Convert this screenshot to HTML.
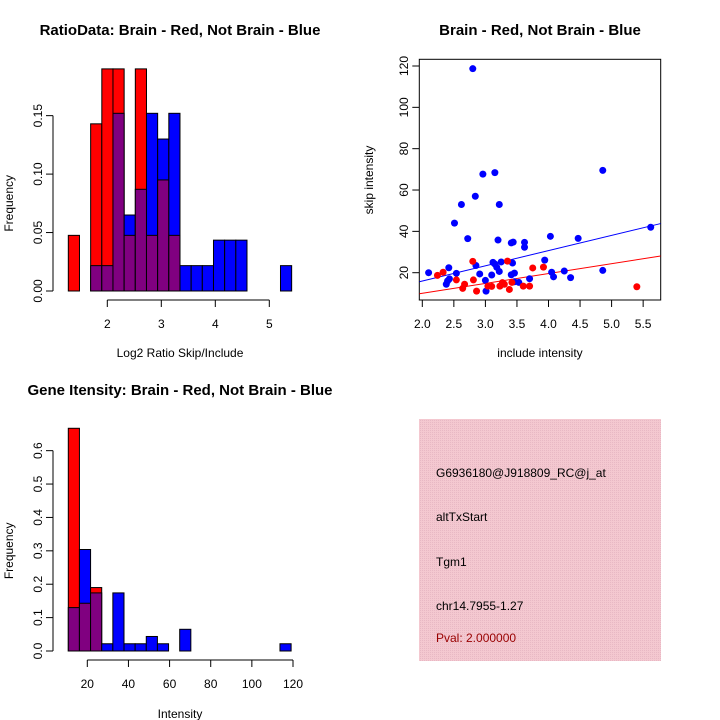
<!DOCTYPE html>
<html><head><meta charset="utf-8"><style>
html,body{margin:0;padding:0;background:#fff;}
svg{display:block;font-family:"Liberation Sans",sans-serif;}
</style></head><body>
<svg id="root" width="720" height="720" viewBox="0 0 720 720">
<defs><pattern id="pk" width="2" height="2" patternUnits="userSpaceOnUse"><rect width="2" height="2" fill="#f4c8d0"/><rect width="1" height="1" fill="#e8b8c4"/></pattern></defs>
<g id="p1"></g>
<g id="p2"></g>
<g id="p3"></g>
<g>
<rect x="419" y="419" width="242" height="242" fill="url(#pk)"/>
<g font-size="12" fill="#000">
<text x="436" y="477">G6936180@J918809_RC@j_at</text>
<text x="436" y="521">altTxStart</text>
<text x="436" y="566">Tgm1</text>
<text x="436" y="610">chr14.7955-1.27</text>
<text x="436" y="642" fill="#990000">Pval: 2.000000</text>
</g></g>
</svg>
<script>
// Histogram 1 data
const h1Red = [0.0476,0,0.143,0.19,0.19,0.0476,0.19,0.0476,0.095,0.0476,0,0,0,0,0,0,0,0,0,0];
const h1Blue = [0,0,0.0217,0.0217,0.152,0.065,0.087,0.152,0.13,0.152,0.0217,0.0217,0.0217,0.0435,0.0435,0.0435,0,0,0,0.0217];
const h1Start = 1.278, h1Width = 0.2068;
const h1XTicks = [2,3,4,5];
const h1YTicks = [0,0.05,0.1,0.15];
const h1YLabels = ["0.00","0.05","0.10","0.15"];
// Histogram 2 data
const h2Red = [0.667,0.143,0.19,0,0,0,0,0,0,0,0,0,0,0,0,0,0,0,0,0];
const h2Blue = [0.13,0.304,0.174,0.0217,0.174,0.0217,0.0217,0.0435,0.0217,0,0.065,0,0,0,0,0,0,0,0,0.0217];
const h2Start = 10.76, h2Width = 5.416;
const h2XTicks = [20,40,60,80,100,120];
const h2YTicks = [0,0.1,0.2,0.3,0.4,0.5,0.6];
const h2YLabels = ["0.0","0.1","0.2","0.3","0.4","0.5","0.6"];
// Scatter data
const blueX = [2.10,2.80,2.51,2.62,2.72,2.84,2.96,3.15,3.22,3.20,3.41,3.44,3.62,3.62,4.03,4.47,4.86,5.62,2.42,2.38,2.40,2.43,2.54,2.85,2.91,3.00,3.01,3.10,3.12,3.15,3.18,3.22,3.25,3.41,3.43,3.46,3.46,3.53,3.70,3.94,4.05,4.08,4.25,4.35,4.86];
const blueY = [20,118.7,44,53,36.5,57,67.7,68.4,53,35.8,34.4,34.8,34.7,32.3,37.6,36.6,69.5,42,22.4,14.4,16,17,19.7,23.5,19.4,16.3,11.1,18.9,25,24.2,22.6,20.6,25.2,19,24.7,19.8,15.6,15.3,17.1,26.1,20.2,18,20.8,17.6,21.1];
const redX = [2.24,2.33,2.54,2.64,2.67,2.80,2.81,2.86,3.04,3.10,3.23,3.27,3.30,3.35,3.38,3.42,3.60,3.70,3.75,3.92,5.40];
const redY = [18.7,20.2,16.5,12.4,14.4,25.5,16.5,11.1,13.5,13.4,13.5,15.2,14.4,25.6,11.9,15.3,13.5,13.5,22.3,22.7,13.2];
const blueFit = [1.25,7.36];
const redFit = [0.48,4.78];
const scXTicks = [2.0,2.5,3.0,3.5,4.0,4.5,5.0,5.5];
const scYTicks = [20,40,60,80,100,120];

const NS="http://www.w3.org/2000/svg";
function mk(parent,tag,attrs,txt){const e=document.createElementNS(NS,tag);for(const k in attrs)e.setAttribute(k,attrs[k]);if(txt!==undefined)e.textContent=txt;parent.appendChild(e);return e;}

function hist(g,red,blue,start,w,sx,sy,base,axisY,xT,xL,yT,yL,title,titleY,xlab,xlabY){
  for(let i=0;i<red.length;i++){
    const r=red[i],b=blue[i];const x0=sx(start+i*w),x1=sx(start+(i+1)*w);
    const hi=Math.max(r,b),lo=Math.min(r,b);
    if(hi>0){const e=mk(g,'rect',{x:x0,y:sy(hi),width:x1-x0,height:base-sy(hi),fill:r>=b?'#ff0000':'#0000ff',stroke:'#000','stroke-width':1});
      
      }
    if(lo>0){const e=mk(g,'rect',{x:x0,y:sy(lo),width:x1-x0,height:base-sy(lo),fill:'#800080',stroke:'#000','stroke-width':1});
      
      }
  }
  const xa=mk(g,'line',{x1:sx(xT[0]),x2:sx(xT[xT.length-1]),y1:axisY,y2:axisY,stroke:'#000'});
  
  
  xT.forEach((t,i)=>{mk(g,'line',{x1:sx(t),x2:sx(t),y1:axisY,y2:axisY+7,stroke:'#000'});
    const e=mk(g,'text',{x:sx(t),y:axisY+28,'text-anchor':'middle','font-size':12},xL[i]);
    
    });
  const ya=mk(g,'line',{x1:53,x2:53,y1:sy(yT[0]),y2:sy(yT[yT.length-1]),stroke:'#000'});
  
  
  yT.forEach((t,i)=>{const y=sy(t);mk(g,'line',{x1:46,x2:53,y1:y,y2:y,stroke:'#000'});
    const e=mk(g,'text',{x:0,y:0,'text-anchor':'middle','font-size':12,transform:`translate(42,${y}) rotate(-90)`},yL[i]);
    
    });
  const t=mk(g,'text',{x:180,y:titleY,'text-anchor':'middle','font-size':15,'font-weight':'bold'},title);
  
  
  const xl=mk(g,'text',{x:180,y:xlabY,'text-anchor':'middle','font-size':12},xlab);
  
  
  const yc=(sy(yT[0])+sy(yT[yT.length-1]))/2;
  const yl=mk(g,'text',{x:0,y:0,'text-anchor':'middle','font-size':12,transform:`translate(13,${yc}) rotate(-90)`},'Frequency');
  
  
}

const g1=document.getElementById('p1');
hist(g1,h1Red,h1Blue,h1Start,h1Width,v=>107.3+(v-2)*54,v=>291-1169*v,291,300,h1XTicks,h1XTicks.map(String),h1YTicks,h1YLabels,'RatioData: Brain - Red, Not Brain - Blue',35,'Log2 Ratio Skip/Include',357);
const g3=document.getElementById('p3');
hist(g3,h2Red,h2Blue,h2Start,h2Width,v=>87.3+(v-20)*2.057,v=>651-333.9*v,651,660,h2XTicks,h2XTicks.map(String),h2YTicks,h2YLabels,'Gene Itensity: Brain - Red, Not Brain - Blue',395,'Intensity',718);

// scatter
const g2=document.getElementById('p2');
const sx=v=>422.3+(v-2)*63.1, sy=v=>272.7-(v-20)*2.067;
const L=419.3,R=660.7,T=59.3,B=300;
const cp=mk(g2,'clipPath',{id:'scclip'});mk(cp,'rect',{x:L,y:T,width:R-L,height:B-T});
const fr=mk(g2,'rect',{x:L,y:T,width:R-L,height:B-T,fill:'none',stroke:'#000'});


const xmin=(L-422.3)/63.1+2,xmax=(R-422.3)/63.1+2;
[[blueFit,'#0000ff','blue-fit-line'],[redFit,'#ff0000','red-fit-line']].forEach(([f,c,n])=>{
  const e=mk(g2,'line',{x1:sx(xmin),y1:sy(f[0]+f[1]*xmin),x2:sx(xmax),y2:sy(f[0]+f[1]*xmax),stroke:c,'clip-path':'url(#scclip)'});
  
  });
blueX.forEach((x,i)=>{const e=mk(g2,'circle',{cx:sx(x),cy:sy(blueY[i]),r:3.5,fill:'#0000ff'});
  
  });
redX.forEach((x,i)=>{const e=mk(g2,'circle',{cx:sx(x),cy:sy(redY[i]),r:3.5,fill:'#ff0000'});
  
  });
scXTicks.forEach(t=>{mk(g2,'line',{x1:sx(t),x2:sx(t),y1:B,y2:B+7,stroke:'#000'});
  const e=mk(g2,'text',{x:sx(t),y:B+28,'text-anchor':'middle','font-size':12},t.toFixed(1));
  
  });
scYTicks.forEach(t=>{const y=sy(t);mk(g2,'line',{x1:L-7,x2:L,y1:y,y2:y,stroke:'#000'});
  const e=mk(g2,'text',{x:0,y:0,'text-anchor':'middle','font-size':12,transform:`translate(408,${y}) rotate(-90)`},String(t));
  
  });
const st=mk(g2,'text',{x:540,y:35,'text-anchor':'middle','font-size':15,'font-weight':'bold'},'Brain - Red, Not Brain - Blue');


const sxl=mk(g2,'text',{x:540,y:357,'text-anchor':'middle','font-size':12},'include intensity');


const syl=mk(g2,'text',{x:0,y:0,'text-anchor':'middle','font-size':12,transform:'translate(373,180) rotate(-90)'},'skip intensity');


</script>
</body></html>
